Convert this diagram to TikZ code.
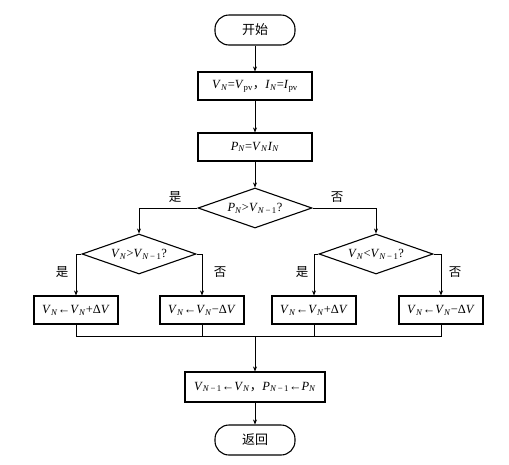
\documentclass[tikz,border=0pt]{standalone}
\usepackage{fontspec}
\setmainfont{Liberation Serif}
\newfontfamily\cjk{Noto Sans CJK SC}
\usetikzlibrary{shapes.geometric,arrows.meta}
\newcommand{\vs}[2]{\textit{#1}\textsubscript{#2}}
\newcommand{\sN}{\textit{N}}
\newcommand{\sNm}{\textit{N}\,−\,1}
\begin{document}
\begin{tikzpicture}[x=1pt,y=-1pt,
  box/.style={draw,line width=1.1pt,minimum height=28pt,inner sep=0pt,font=\fontsize{12.5}{14}\selectfont},
  term/.style={draw,line width=1.1pt,rounded corners=14pt,minimum width=80pt,minimum height=30pt,inner sep=0pt,font=\cjk\fontsize{13}{15}\selectfont},
  dec/.style={draw,diamond,line width=1.1pt,aspect=2.8,minimum width=114pt,minimum height=40pt,inner sep=0pt,font=\fontsize{12.5}{14}\selectfont},
  conn/.style={line width=0.6pt},
  arr/.style={conn,-{Stealth[length=5pt,width=4pt]}},
  lbl/.style={font=\cjk\fontsize{12.5}{14}\selectfont}]
\useasboundingbox (0,0) rectangle (509,464);
\node[term] (start) at (255,30) {开始};
\node[box,minimum width=114pt] (init) at (255,86) {\vs{V}{\sN}=\vs{V}{pv}{\cjk ，}\vs{I}{\sN}=\vs{I}{pv}};
\node[box,minimum width=114pt] (pow) at (255,147) {\vs{P}{\sN}=\vs{V}{\sN}\vs{I}{\sN}};
\node[dec] (d1) at (255,208) {\vs{P}{\sN}>\vs{V}{\sNm}?};
\node[dec] (d2) at (139,254) {\vs{V}{\sN}>\vs{V}{\sNm}?};
\node[dec] (d3) at (376,254) {\vs{V}{\sN}<\vs{V}{\sNm}?};
\node[box,minimum width=84pt] (b1) at (76,310) {\vs{V}{\sN}←\vs{V}{\sN}+Δ\textit{V}};
\node[box,minimum width=84pt] (b2) at (202,310) {\vs{V}{\sN}←\vs{V}{\sN}−Δ\textit{V}};
\node[box,minimum width=84pt] (b3) at (314,310) {\vs{V}{\sN}←\vs{V}{\sN}+Δ\textit{V}};
\node[box,minimum width=84pt] (b4) at (441,310) {\vs{V}{\sN}←\vs{V}{\sN}−Δ\textit{V}};
\coordinate (m) at (255,336);
\node[box,minimum width=140pt,minimum height=30pt] (upd) at (255,387) {\vs{V}{\sNm}←\vs{V}{\sN}{\cjk ，}\vs{P}{\sNm}←\vs{P}{\sN}};
\node[term] (ret) at (255,440) {返回};
\draw[arr] (start) -- (init);
\draw[arr] (init) -- (pow);
\draw[arr] (pow) -- (d1);
\draw[arr] (d1.west) -| (d2.north);
\draw[arr] (d1.east) -| (d3.north);
\draw[arr] (d2.west) -| (b1.north);
\draw[arr] (d2.east) -| (b2.north);
\draw[arr] (d3.west) -| (b3.north);
\draw[arr] (d3.east) -| (b4.north);
\draw[conn] (b1.south) -- (b1.south|-m) -- (b4.south|-m) -- (b4.south);
\draw[conn] (b2.south) -- (b2.south|-m);
\draw[conn] (b3.south) -- (b3.south|-m);
\draw[arr] (m) -- (upd);
\draw[arr] (upd) -- (ret);
\node[lbl] (l1) at (175,197) {是};
\node[lbl] (l2) at (337,197) {否};
\node[lbl] (l3) at (62,272) {是};
\node[lbl] (l4) at (220,272) {否};
\node[lbl] (l5) at (302,272) {是};
\node[lbl] (l6) at (455,272) {否};
\end{tikzpicture}
\end{document}
